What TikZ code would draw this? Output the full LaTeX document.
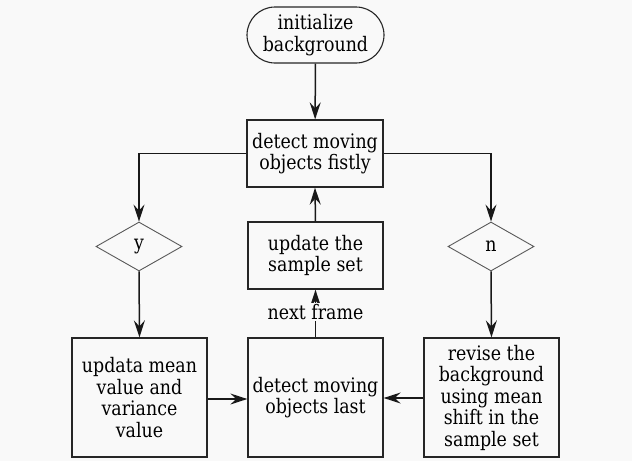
\documentclass[tikz,border=0pt]{standalone}
\usepackage{fontspec}
\setmainfont{DejaVu Serif}[FakeStretch=0.87]
\usetikzlibrary{arrows.meta,shapes.geometric,shapes.misc}
\definecolor{bg}{RGB}{249,249,249}
\begin{document}
\begin{tikzpicture}[x=1pt,y=-1pt,
  every node/.style={font=\fontsize{20}{21.5}\selectfont, text=black, align=center, inner sep=0pt},
  procbox/.style={draw=black!85, line width=1.3pt},
  term/.style={draw=black!85, line width=1.1pt, rounded rectangle, minimum width=137pt, minimum height=56pt},
  decis/.style={draw=black!65, line width=0.9pt, diamond, aspect=1.75, minimum width=86pt, minimum height=49pt},
  flow/.style={line width=1.5pt, draw=black!90, -{Stealth[length=17pt,width=11pt,inset=6pt]}},
  plain/.style={line width=1.5pt, draw=black!90}]
\fill[bg] (0,0) rectangle (632,461);
\useasboundingbox (0,0) rectangle (632,461);
\node[term] (init) at (315.5,35) {initialize\\background};
\node[procbox, minimum width=136pt, minimum height=67pt] (first) at (315,153.5) {detect moving\\objects fistly};
\node[procbox, minimum width=135pt, minimum height=67pt] (samp) at (315.5,255.5) {update the\\sample set};
\node[decis] (y) at (139,246.5) {y};
\node[decis] (n) at (491,246.5) {n};
\node[procbox, minimum width=135pt, minimum height=119pt] (upd) at (139.5,397.5) {updata mean\\value and\\variance\\value};
\node[procbox, minimum width=135pt, minimum height=119pt] (last) at (315.5,397.5) {detect moving\\objects last};
\node[procbox, minimum width=135pt, minimum height=119pt] (rev) at (491.5,397.5) {revise the\\background\\using mean\\shift in the\\sample set};
\coordinate (lc) at (139,153.5);
\coordinate (rc) at (491,153.5);
\draw[flow] (init) -- (first);
\draw[flow] (first.west) -- (lc) -- (y.north);
\draw[flow] (first.east) -- (rc) -- (n.north);
\draw[flow] (y.south) -- (upd.north);
\draw[flow] (n.south) -- (rev.north);
\draw[flow] (samp.north) -- (first.south);
\draw[flow] (last.north) -- (samp.south);
\node[fill=bg, inner xsep=1pt, inner ysep=1pt] (nf) at (315.5,312) {next frame};
\draw[flow] (upd.east |- 0,399) -- (last.west |- 0,399);
\draw[flow] (rev.west |- 0,398) -- (last.east |- 0,398);
\end{tikzpicture}
\end{document}
